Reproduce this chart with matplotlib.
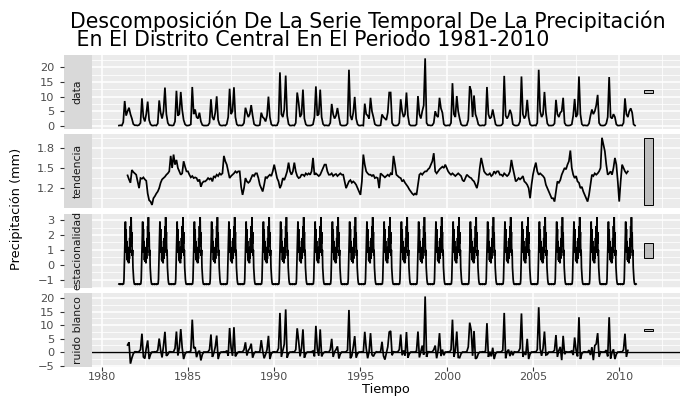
import numpy as np
import matplotlib
matplotlib.use("Agg")
import matplotlib.pyplot as plt
from matplotlib.patches import Rectangle
from matplotlib.ticker import FixedLocator

plt.rcParams['font.family'] = ['DejaVu Sans']

title_line1 = "Descomposición De La Serie Temporal De La Precipitación"
title_line2 = " En El Distrito Central En El Periodo 1981-2010"
x_label = "Tiempo"
y_label = "Precipitación (mm)"
panel_names = ["data", "tendencia", "estacionalidad", "ruido blanco"]

# monthly values, one row per year (Jan..Dec), 1981-2010
data_start = 1981.0
precip = [
    0.1, 0.2, 0.1, 1.2, 8.5, 3.5, 5.0, 6.2, 4.0, 2.5, 0.6, 0.2,
    0.2, 0.1, 0.3, 1.0, 9.4, 3.0, 1.5, 4.0, 8.3, 2.0, 0.5, 0.1,
    0.1, 0.2, 0.1, 0.8, 8.7, 4.5, 2.5, 5.0, 13.1, 4.0, 1.0, 0.2,
    0.2, 0.1, 0.2, 1.5, 12.0, 3.5, 4.0, 11.6, 5.5, 2.0, 0.5, 0.1,
    0.1, 0.2, 0.5, 13.3, 4.0, 5.6, 3.0, 2.5, 4.5, 1.5, 0.3, 0.1,
    0.1, 0.1, 0.2, 1.0, 9.1, 3.0, 2.0, 4.5, 10.1, 2.0, 0.4, 0.1,
    0.1, 0.2, 0.1, 0.6, 3.0, 12.7, 4.0, 5.0, 13.2, 3.0, 0.5, 0.1,
    0.2, 0.1, 0.2, 1.0, 6.2, 4.5, 3.0, 4.0, 7.1, 3.5, 0.6, 0.2,
    0.1, 0.1, 0.3, 4.5, 3.0, 2.5, 1.5, 3.5, 10.0, 3.0, 0.5, 0.1,
    0.2, 0.1, 0.2, 1.5, 18.3, 4.0, 3.0, 5.5, 17.2, 3.5, 0.6, 0.1,
    0.1, 0.2, 0.1, 1.0, 11.4, 7.9, 3.0, 4.0, 12.4, 2.5, 0.5, 0.1,
    0.1, 0.1, 0.2, 0.5, 3.0, 13.5, 3.5, 4.0, 12.4, 3.0, 0.6, 0.1,
    0.2, 0.1, 0.1, 1.0, 7.5, 4.0, 2.5, 3.5, 6.1, 3.0, 0.4, 0.1,
    0.1, 0.1, 0.2, 0.8, 19.2, 3.5, 2.0, 4.5, 9.9, 2.5, 0.5, 0.1,
    0.1, 0.2, 0.1, 7.6, 4.0, 3.5, 2.5, 9.6, 5.0, 3.0, 0.6, 0.2,
    0.1, 0.1, 0.2, 3.9, 3.0, 2.5, 2.0, 4.5, 11.4, 11.4, 1.0, 0.2,
    0.1, 0.1, 0.2, 1.0, 9.1, 5.0, 3.0, 4.0, 11.4, 3.5, 0.5, 0.1,
    0.1, 0.1, 0.1, 0.5, 10.2, 4.0, 2.5, 5.0, 7.0, 23.1, 1.0, 0.2,
    0.2, 0.1, 0.2, 1.0, 5.0, 3.5, 3.0, 9.6, 6.0, 4.5, 0.6, 0.1,
    0.1, 0.2, 0.1, 1.0, 14.6, 4.0, 3.0, 10.2, 5.0, 2.5, 0.5, 0.1,
    0.1, 0.1, 0.3, 2.0, 13.5, 12.0, 3.0, 10.4, 4.0, 2.5, 0.5, 0.1,
    0.1, 0.2, 0.1, 0.5, 13.3, 4.0, 2.5, 3.0, 5.6, 3.0, 0.5, 0.1,
    0.1, 0.1, 0.2, 0.8, 17.1, 3.5, 2.5, 3.5, 5.5, 4.0, 0.6, 0.2,
    0.1, 0.1, 0.3, 1.5, 16.9, 4.0, 2.5, 3.5, 8.9, 3.0, 0.5, 0.1,
    0.1, 0.2, 0.1, 1.0, 19.2, 5.0, 3.0, 4.0, 11.6, 4.5, 0.8, 0.1,
    0.1, 0.1, 0.2, 0.8, 8.9, 4.0, 3.0, 4.5, 5.0, 9.6, 1.0, 0.2,
    0.1, 0.1, 0.2, 0.5, 3.5, 9.2, 3.0, 4.0, 16.9, 4.0, 0.6, 0.1,
    0.2, 0.1, 0.1, 0.8, 3.5, 5.6, 4.0, 5.0, 7.0, 10.6, 1.0, 0.2,
    0.1, 0.1, 0.2, 0.8, 3.0, 16.7, 3.0, 2.5, 4.0, 3.0, 0.5, 0.1,
    0.1, 0.2, 0.1, 1.0, 9.4, 4.0, 3.0, 5.0, 6.0, 4.5, 0.5, 0.1,
]

# trend: monthly from Jul 1981 to Jul 2010
trend_start = 1981.5
trend = [
    1.39, 1.33, 1.28, 1.47, 1.44, 1.42,
    1.40, 1.30, 1.20, 1.35, 1.34, 1.36, 1.33, 1.31, 1.12, 1.02, 1.00, 0.95,
    1.05, 1.08, 1.12, 1.15, 1.20, 1.28, 1.33, 1.35, 1.37, 1.40, 1.42, 1.45,
    1.68, 1.50, 1.70, 1.55, 1.62, 1.50, 1.45, 1.40, 1.42, 1.60, 1.52, 1.45,
    1.45, 1.40, 1.36, 1.38, 1.35, 1.36, 1.35, 1.30, 1.33, 1.22, 1.28, 1.30,
    1.30, 1.32, 1.35, 1.33, 1.35, 1.30, 1.38, 1.36, 1.40, 1.38, 1.42, 1.40,
    1.42, 1.68, 1.60, 1.55, 1.45, 1.35, 1.38, 1.40, 1.42, 1.45, 1.43, 1.45,
    1.45, 1.22, 1.10, 1.20, 1.35, 1.30, 1.28, 1.30, 1.35, 1.40, 1.38, 1.42,
    1.42, 1.35, 1.25, 1.20, 1.15, 1.25, 1.37, 1.35, 1.38, 1.40, 1.38, 1.45,
    1.55, 1.45, 1.35, 1.30, 1.20, 1.25, 1.35, 1.32, 1.38, 1.45, 1.58, 1.45,
    1.40, 1.45, 1.58, 1.45, 1.38, 1.35, 1.36, 1.40, 1.40, 1.38, 1.42, 1.40,
    1.42, 1.40, 1.45, 1.65, 1.40, 1.42, 1.40, 1.38, 1.40, 1.45, 1.50, 1.55,
    1.55, 1.45, 1.40, 1.40, 1.42, 1.38, 1.40, 1.41, 1.38, 1.40, 1.42, 1.40,
    1.40, 1.30, 1.20, 1.25, 1.30, 1.32, 1.28, 1.30, 1.28, 1.25, 1.20, 1.15,
    1.10, 1.30, 1.70, 1.55, 1.45, 1.42, 1.40, 1.40, 1.38, 1.40, 1.35, 1.36,
    1.35, 1.20, 1.42, 1.40, 1.38, 1.36, 1.38, 1.40, 1.38, 1.42, 1.40, 1.68,
    1.55, 1.40, 1.38, 1.36, 1.35, 1.30, 1.32, 1.28, 1.25, 1.22, 1.18, 1.15,
    1.12, 1.10, 1.12, 1.10, 1.25, 1.40, 1.42, 1.40, 1.43, 1.45, 1.45, 1.48,
    1.50, 1.55, 1.60, 1.72, 1.45, 1.42, 1.45, 1.48, 1.50, 1.52, 1.50, 1.55,
    1.50, 1.45, 1.42, 1.40, 1.42, 1.40, 1.38, 1.40, 1.42, 1.40, 1.38, 1.32,
    1.30, 1.35, 1.40, 1.38, 1.36, 1.35, 1.32, 1.30, 1.25, 1.20, 1.30, 1.50,
    1.65, 1.55, 1.45, 1.42, 1.40, 1.40, 1.42, 1.38, 1.40, 1.45, 1.42, 1.45,
    1.45, 1.40, 1.40, 1.38, 1.42, 1.40, 1.38, 1.40, 1.45, 1.62, 1.50, 1.40,
    1.30, 1.32, 1.35, 1.33, 1.35, 1.38, 1.30, 1.28, 1.25, 1.20, 1.05, 1.25,
    1.40, 1.50, 1.58, 1.45, 1.40, 1.42, 1.40, 1.38, 1.35, 1.25, 1.20, 1.15,
    1.10, 1.05, 1.05, 1.00, 1.15, 1.30, 1.28, 1.32, 1.40, 1.45, 1.50, 1.48,
    1.55, 1.60, 1.76, 1.50, 1.40, 1.35, 1.38, 1.30, 1.28, 1.20, 1.22, 1.15,
    1.10, 1.05, 1.00, 1.10, 1.25, 1.40, 1.38, 1.42, 1.40, 1.42, 1.45, 1.50,
    1.95, 1.85, 1.75, 1.55, 1.40, 1.42, 1.45, 1.40, 1.50, 1.65, 1.55, 1.30,
    1.00, 1.30, 1.55, 1.50, 1.45, 1.42, 1.45,
]

# one seasonal cycle (48 steps per year), repeated over 1981-2010
seasonal_start = 1981.0
seasonal_years = 30
seasonal_cycle = [
    -1.30, -1.31, -1.30, -1.32, -1.30, -1.31, -1.30, -1.31, -1.30, -1.32, -1.30, -1.31,
    -1.30, -1.28, -1.00, 0.00, 1.20, 2.00, 2.90, 1.50, 2.40, 0.80, 1.60, 0.30,
    1.00, 0.20, 0.90, 0.10, 1.20, 0.40, 1.80, 0.80, 2.60, 1.20, 3.20, 1.40,
    2.20, 0.60, 1.00, -0.20, -0.60, -1.00, -1.20, -1.30, -1.31, -1.30, -1.32, -1.30,
]

# remainder: monthly from Jul 1981 to Jul 2010
remainder_start = 1981.5
remainder = [
    2.6, 3.6, -4.3, -2.2, -0.6, 0.1,
    0.1, 0.0, 0.2, 0.9, 6.8, -1.8, -2.4, 1.4, 4.3, -2.6, -0.8, 0.0,
    0.0, 0.1, 0.0, 0.7, 5.0, 0.7, -2.0, 2.4, 7.5, -1.4, -0.9, 0.1,
    0.1, 0.0, 0.1, 1.4, 7.6, -1.3, 1.6, 8.5, 1.5, -2.6, -0.7, 0.0,
    0.0, 0.1, 0.4, 12.0, 1.4, 1.8, -1.9, -0.1, 0.5, -3.1, -0.9, 0.0,
    0.0, 0.0, 0.1, 0.9, 6.5, -1.8, -0.4, 1.9, 6.1, -2.6, -0.6, 0.0,
    0.0, 0.1, 0.0, 0.5, -1.4, 8.9, 1.6, -1.4, 9.2, -1.6, -0.7, 0.0,
    0.1, 0.0, 0.1, 0.9, 3.6, -1.3, 0.6, 1.4, 3.1, -2.1, -0.5, 0.1,
    0.0, 0.0, 0.2, 4.4, 0.4, -2.3, -0.9, 0.9, 6.0, -2.6, -0.6, 0.0,
    0.1, 0.0, 0.1, 1.4, 14.5, -1.8, 0.6, 2.9, 15.8, -2.1, -0.5, 0.0,
    0.0, 0.1, 0.0, 0.9, 8.8, 4.1, -1.6, 1.4, 8.4, -2.1, -0.6, 0.0,
    0.0, 0.0, 0.1, 0.4, -1.6, 9.7, 1.1, -1.4, 8.4, -1.6, -0.5, 0.0,
    0.1, 0.0, 0.0, 0.9, 4.9, -1.8, 0.1, 0.9, 2.1, -2.4, -0.7, 0.0,
    0.0, 0.0, 0.1, 0.7, 15.6, -2.3, -1.4, 1.9, 5.9, -2.1, -0.6, 0.0,
    0.0, 0.1, 0.0, 7.5, 1.4, -2.3, 0.1, 7.0, -1.0, -1.6, -0.5, 0.1,
    0.0, 0.0, 0.1, 3.8, -1.4, -2.8, -0.4, 1.9, 7.4, 7.8, -1.2, 0.1,
    0.0, 0.0, 0.1, 0.9, 6.5, -1.2, 0.6, -1.4, 7.4, -2.1, -0.6, 0.0,
    0.0, 0.0, 0.0, 0.4, 7.6, -2.0, 0.1, 2.4, -1.0, 20.6, -1.8, 0.1,
    0.1, 0.0, 0.1, 0.9, 2.4, -2.3, 0.6, 7.0, -1.5, 0.9, -1.2, 0.0,
    0.0, 0.1, 0.0, 0.9, 12.0, -1.8, 0.6, 7.6, -2.0, -2.1, -0.6, 0.0,
    0.0, 0.0, 0.2, 1.9, 10.9, 8.2, -1.4, 7.8, -2.5, -2.1, -0.6, 0.0,
    0.0, 0.1, 0.0, 0.4, 10.7, -1.8, 0.1, -1.6, 1.6, -2.6, -0.6, 0.0,
    0.0, 0.0, 0.1, 0.7, 14.5, -2.3, 0.1, 0.9, -1.5, 0.4, -1.2, 0.1,
    0.0, 0.0, 0.2, 1.4, 14.3, -1.8, 0.1, -1.1, 4.9, -2.6, -0.7, 0.0,
    0.0, 0.1, 0.0, 0.9, 16.6, 1.2, -1.4, 1.4, 7.6, -1.1, -0.9, 0.0,
    0.0, 0.0, 0.1, 0.7, 6.3, -1.8, 0.6, 1.9, -3.0, 6.0, -0.8, 0.1,
    0.0, 0.0, 0.1, 0.4, -1.1, 5.4, 0.6, -1.6, 12.9, -2.6, -0.6, 0.0,
    0.1, 0.0, 0.0, 0.7, -1.1, 1.8, -3.0, 2.4, 3.0, 7.0, -1.8, 0.1,
    0.0, 0.0, 0.1, 0.7, -1.6, 12.9, -2.4, -0.1, 1.0, -2.6, -0.8, 0.0,
    0.0, 0.1, 0.0, 0.9, 6.8, -1.8, 0.6,
]

x_major = [1980, 1985, 1990, 1995, 2000, 2005, 2010]
y_ticks = [[0, 5, 10, 15, 20], [1.2, 1.5, 1.8], [-1, 0, 1, 2, 3], [-5, 0, 5, 10, 15, 20]]

# ---------------------------------------------------------------
t_data = data_start + np.arange(len(precip)) / 12
t_trend = trend_start + np.arange(len(trend)) / 12
seas_vals = np.tile(seasonal_cycle, seasonal_years)
t_seas = seasonal_start + np.arange(len(seas_vals)) / len(seasonal_cycle)
t_rem = remainder_start + np.arange(len(remainder)) / 12

series = [(t_data, np.array(precip)), (t_trend, np.array(trend)),
          (t_seas, seas_vals), (t_rem, np.array(remainder))]

ranges = [v.max() - v.min() for _, v in series]
bar_h = min(ranges)
bar_x0, bar_w = 2011.45, 0.5
xlim = (1979.45, 2013.5)

W, H = 684, 396
fig = plt.figure(figsize=(W / 100, H / 100), dpi=100)

px_left, px_right = 92.2, 679.6
strip_left = 63.5
tops = [55.0, 134.4, 213.8, 293.1]
ph = 73.9

x_tick_kw = dict(length=2.75, width=0.8, color='#333333', labelsize=8,
                 labelcolor='#4d4d4d', pad=0.8)
y_tick_kw = dict(length=2.75, width=0.8, color='#333333', labelsize=8.2,
                 labelcolor='#4d4d4d', pad=3.8)

for i, ((t, v), name) in enumerate(zip(series, panel_names)):
    top = tops[i]
    bottom_f = 1 - (top + ph) / H
    ax = fig.add_axes([px_left / W, bottom_f, (px_right - px_left) / W, ph / H])
    sax = fig.add_axes([strip_left / W, bottom_f, (px_left - strip_left) / W, ph / H], sharey=ax)

    ax.set_facecolor('#ebebeb')
    for s in ax.spines.values():
        s.set_visible(False)
    for s in sax.spines.values():
        s.set_visible(False)
    sax.set_facecolor('#d9d9d9')

    ax.plot(t, v, color='black', lw=1.25, solid_joinstyle='miter')
    if i == 3:
        ax.axhline(0, color='black', lw=1.0)

    lo, hi = v.min(), v.max()
    if i == 3:
        lo, hi = min(lo, 0), max(hi, 0)
    mid = (lo + hi) / 2
    ax.add_patch(Rectangle((bar_x0, mid - bar_h / 2), bar_w, bar_h,
                           facecolor='#bdbdbd', edgecolor='black', lw=0.7, zorder=3))
    span = hi - lo
    ax.set_ylim(lo - 0.05 * span, hi + 0.05 * span)
    ax.set_xlim(*xlim)

    yt = y_ticks[i]
    step = yt[1] - yt[0]
    ax.yaxis.set_major_locator(FixedLocator(yt))
    minor = [yt[0] - step / 2] + [y + step / 2 for y in yt]
    ax.yaxis.set_minor_locator(FixedLocator(minor))
    ax.xaxis.set_major_locator(FixedLocator(x_major))
    ax.xaxis.set_minor_locator(FixedLocator([x + 2.5 for x in x_major]))
    ax.grid(which='major', color='white', lw=1.1)
    ax.grid(which='minor', color='white', lw=0.55)
    ax.set_axisbelow(True)

    ax.tick_params(axis='y', which='both', left=False, labelleft=False)
    ax.tick_params(axis='x', which='minor', bottom=False)
    if i == 3:
        ax.tick_params(axis='x', which='major', **x_tick_kw)
    else:
        ax.tick_params(axis='x', which='major', bottom=False, labelbottom=False)

    sax.set_xticks([])
    sax.tick_params(axis='y', which='major', **y_tick_kw)
    sax.tick_params(axis='y', which='minor', left=False)
    sax.text(0.5, 0.5, name, rotation=90, transform=sax.transAxes, ha='center',
             va='center', color='#1a1a1a', fontsize=7.8)

fig.text(70 / W, 1 - 27.5 / H, title_line1, fontsize=14.8, va='baseline', ha='left')
fig.text(70 / W, 1 - 46.0 / H, title_line2, fontsize=14.8, va='baseline', ha='left')
fig.text(17 / W, 1 - 209 / H, y_label, rotation=90, ha='center', va='center', fontsize=9.3)
fig.text(386 / W, 1 - 392.6 / H, x_label, ha='center', va='baseline', fontsize=9.3)

fig.savefig('out.png', dpi=100)
